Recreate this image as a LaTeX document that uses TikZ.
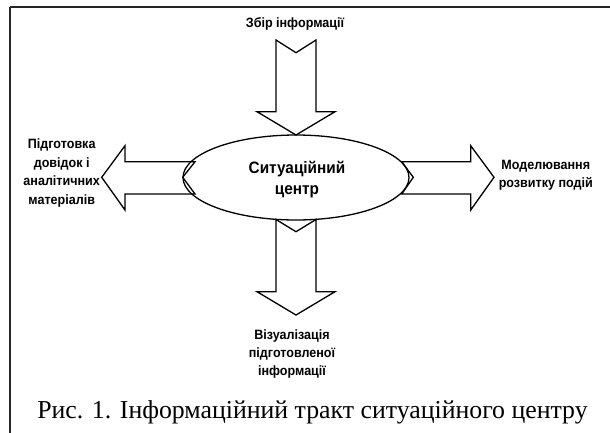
\documentclass[tikz,border=0pt]{standalone}
\usepackage{fontspec}
\setmainfont{Liberation Serif}
\newfontfamily\lbl[FakeStretch=0.93]{Liberation Sans}
\usetikzlibrary{shapes.geometric}
\begin{document}
\begin{tikzpicture}[x=1pt,y=-1pt,
  blockarrow/.style={draw=black,fill=white,line width=1.3pt,line join=miter},
  lbltext/.style={align=center,inner sep=0pt,font=\lbl\bfseries\fontsize{13.5}{18.4}\selectfont},
  centtext/.style={align=center,inner sep=0pt,font=\lbl\bfseries\fontsize{16.5}{21.7}\selectfont}]
\useasboundingbox (0,0) rectangle (610,432);
% frame
\draw[line width=1.6pt,color=black!85] (10,6.7) -- (620,6.7);
\draw[line width=1.6pt,color=black!85] (10,6.7) -- (10,440);
% arrows
\draw[blockarrow] (276,40) -- (296,52.7) -- (316,40) -- (316,111.7) -- (335,111.7) -- (296,135) -- (257,111.7) -- (276,111.7) -- cycle;
\draw[blockarrow] (276,219.5) -- (296,231.7) -- (316,219.5) -- (316,291.7) -- (335,291.7) -- (296,315) -- (257,291.7) -- (276,291.7) -- cycle;
\draw[blockarrow] (195,161.7) -- (182.7,177.3) -- (195,194) -- (125,194) -- (125,210) -- (101.7,177.3) -- (125,145.7) -- (125,161.7) -- cycle;
\draw[blockarrow] (401.7,161.7) -- (413.3,177.3) -- (401.7,194) -- (470.7,194) -- (470.7,210) -- (494,177.3) -- (470.7,145.7) -- (470.7,161.7) -- cycle;
% ellipse
\node[ellipse,draw=black,line width=1.3pt,minimum width=226pt,minimum height=85pt,inner sep=0pt] (sc) at (296,177.5) {};
\node[centtext] (sctext) at (297,179.5) {Ситуаційний\\центр};
% labels
\node[lbltext] (top) at (295,23.5) {Збір інформації};
\node[lbltext] (left) at (61.7,173) {Підготовка\\довідок і\\аналітичних\\матеріалів};
\node[lbltext] (right) at (545.8,175) {Моделювання\\розвитку подій};
\node[lbltext] (bottom) at (292,354) {Візуалізація\\підготовленої\\інформації};
% caption
\node[inner sep=0pt,anchor=base,font=\fontsize{25.8}{30}\selectfont] (cap) at (312.5,418.3) {Рис. 1. Інформаційний тракт ситуаційного центру};
\end{tikzpicture}
\end{document}
